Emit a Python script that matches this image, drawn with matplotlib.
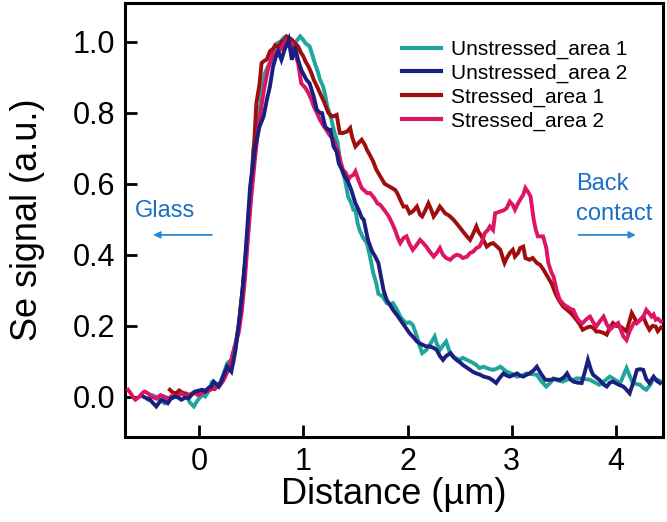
import matplotlib
matplotlib.use("Agg")
import matplotlib.pyplot as plt

plt.rcParams['font.family'] = ['Liberation Sans', 'DejaVu Sans']

# ---------------- data ----------------
u1_x = [-0.49,-0.45,-0.41,-0.37,-0.33,-0.28,-0.23,-0.18,-0.13,-0.09,
        -0.05,-0.01,0.03,0.06,0.09,0.12,0.16,0.20,0.23,0.27,
        0.31,0.35,0.38,0.41,0.44,0.47,0.50,0.52,0.55,0.57,
        0.60,0.63,0.66,0.68,0.72,0.75,0.78,0.81,0.84,0.86,
        0.88,0.90,0.93,0.97,1.00,1.02,1.06,1.09,1.11,1.14,
        1.16,1.19,1.21,1.23,1.25,1.27,1.30,1.33,1.35,1.38,
        1.40,1.43,1.46,1.48,1.50,1.52,1.54,1.57,1.61,1.64,
        1.67,1.70,1.72,1.76,1.80,1.83,1.86,1.90,1.93,1.96,
        1.99,2.02,2.05,2.09,2.12,2.14,2.18,2.22,2.26,2.28,
        2.31,2.34,2.37,2.40,2.44,2.47,2.50,2.53,2.57,2.60,
        2.63,2.66,2.69,2.73,2.76,2.79,2.82,2.86,2.89,2.92,
        2.95,3.00,3.05,3.10,3.14,3.19,3.24,3.28,3.33,3.37,
        3.40,3.45,3.49,3.54,3.59,3.62,3.65,3.70,3.75,3.80,
        3.84,3.89,3.94,3.99,4.04,4.07,4.10,4.13,4.16,4.20,
        4.23,4.26,4.29,4.33,4.36,4.40,4.43]
u1_y = [-0.008,0.005,0.000,-0.010,-0.018,-0.005,0.000,0.008,0.010,-0.015,
        -0.027,-0.008,0.005,0.001,0.015,0.039,0.030,0.039,0.060,0.095,
        0.104,0.150,0.198,0.280,0.370,0.460,0.580,0.696,0.740,0.780,
        0.855,0.910,0.930,0.940,0.970,0.996,1.000,1.010,0.990,0.987,
        0.990,0.996,1.000,1.015,1.005,0.996,0.987,0.960,0.940,0.915,
        0.893,0.874,0.850,0.818,0.800,0.780,0.743,0.715,0.668,0.630,
        0.611,0.564,0.545,0.527,0.527,0.490,0.470,0.450,0.433,0.395,
        0.350,0.320,0.290,0.283,0.264,0.260,0.264,0.245,0.226,0.215,
        0.208,0.210,0.203,0.170,0.140,0.123,0.132,0.150,0.170,0.150,
        0.132,0.145,0.156,0.130,0.113,0.108,0.104,0.110,0.104,0.100,
        0.095,0.090,0.081,0.085,0.081,0.078,0.076,0.080,0.085,0.078,
        0.071,0.065,0.057,0.060,0.066,0.064,0.062,0.045,0.029,0.040,
        0.052,0.045,0.043,0.050,0.048,0.052,0.052,0.050,0.048,0.040,
        0.034,0.045,0.057,0.048,0.039,0.060,0.081,0.060,0.039,0.036,
        0.034,0.025,0.020,0.035,0.052,0.048,0.043]

u2_x = [-0.53,-0.50,-0.47,-0.44,-0.41,-0.38,-0.36,-0.33,-0.30,-0.27,
        -0.23,-0.20,-0.17,-0.13,-0.10,-0.07,-0.04,0.00,0.03,0.06,
        0.09,0.12,0.14,0.17,0.19,0.21,0.23,0.27,0.31,0.33,
        0.35,0.37,0.39,0.42,0.45,0.49,0.52,0.54,0.58,0.62,
        0.65,0.68,0.71,0.74,0.76,0.79,0.82,0.86,0.89,0.92,
        0.95,0.98,1.03,1.06,1.10,1.13,1.16,1.18,1.21,1.24,
        1.26,1.29,1.32,1.34,1.37,1.40,1.43,1.46,1.48,1.50,
        1.53,1.56,1.58,1.60,1.62,1.66,1.69,1.72,1.75,1.77,
        1.80,1.83,1.86,1.90,1.93,1.97,2.02,2.05,2.09,2.12,
        2.15,2.18,2.21,2.25,2.28,2.31,2.34,2.37,2.41,2.44,
        2.47,2.50,2.53,2.57,2.60,2.63,2.66,2.70,2.73,2.76,
        2.79,2.82,2.85,2.88,2.92,2.95,2.98,3.02,3.05,3.08,
        3.11,3.14,3.17,3.21,3.24,3.28,3.32,3.37,3.41,3.46,
        3.50,3.53,3.56,3.59,3.63,3.67,3.70,3.73,3.76,3.78,
        3.81,3.84,3.88,3.91,3.94,3.97,4.02,4.07,4.10,4.13,
        4.17,4.20,4.23,4.26,4.29,4.32,4.36,4.39,4.42]
u2_y = [0.000,-0.004,-0.008,-0.018,-0.027,-0.015,-0.008,-0.012,-0.018,-0.005,
        0.001,-0.002,-0.008,-0.002,-0.004,0.006,0.015,0.018,0.020,0.015,
        0.025,0.030,0.043,0.035,0.029,0.040,0.057,0.085,0.071,0.100,
        0.132,0.180,0.226,0.310,0.420,0.592,0.660,0.705,0.761,0.790,
        0.836,0.874,0.930,0.960,0.973,0.949,0.977,1.006,0.949,0.987,
        0.949,0.921,0.893,0.883,0.846,0.808,0.800,0.799,0.761,0.752,
        0.752,0.705,0.690,0.658,0.640,0.620,0.605,0.583,0.564,0.545,
        0.527,0.505,0.499,0.470,0.442,0.410,0.395,0.377,0.330,0.300,
        0.273,0.260,0.245,0.230,0.217,0.200,0.179,0.170,0.156,0.150,
        0.146,0.142,0.142,0.138,0.132,0.115,0.104,0.115,0.123,0.112,
        0.104,0.098,0.090,0.082,0.076,0.070,0.066,0.062,0.057,0.055,
        0.052,0.046,0.039,0.052,0.066,0.060,0.057,0.062,0.066,0.060,
        0.057,0.062,0.066,0.075,0.085,0.065,0.048,0.048,0.050,0.048,
        0.055,0.066,0.050,0.043,0.040,0.039,0.070,0.104,0.075,0.062,
        0.055,0.048,0.035,0.029,0.040,0.043,0.035,0.029,0.020,0.010,
        0.045,0.076,0.078,0.076,0.050,0.039,0.057,0.045,0.039]

s1_x = [-0.28,-0.25,-0.22,-0.19,-0.16,-0.13,-0.09,-0.05,-0.01,0.03,
        0.07,0.11,0.15,0.19,0.23,0.27,0.31,0.35,0.38,0.41,
        0.44,0.47,0.50,0.53,0.55,0.58,0.60,0.62,0.65,0.68,
        0.71,0.73,0.76,0.79,0.82,0.84,0.87,0.89,0.92,0.95,
        0.98,1.00,1.02,1.05,1.08,1.10,1.13,1.16,1.20,1.24,
        1.27,1.29,1.32,1.35,1.38,1.42,1.45,1.47,1.50,1.53,
        1.56,1.59,1.61,1.64,1.67,1.70,1.74,1.78,1.81,1.84,
        1.88,1.90,1.93,1.96,1.99,2.02,2.05,2.09,2.12,2.14,
        2.17,2.20,2.23,2.25,2.28,2.31,2.34,2.36,2.40,2.44,
        2.48,2.52,2.56,2.60,2.63,2.66,2.68,2.71,2.74,2.76,
        2.79,2.82,2.84,2.87,2.89,2.92,2.93,2.95,2.98,3.01,
        3.03,3.06,3.08,3.11,3.13,3.17,3.20,3.24,3.27,3.30,
        3.34,3.38,3.42,3.45,3.49,3.53,3.57,3.62,3.65,3.68,
        3.72,3.75,3.78,3.81,3.84,3.88,3.91,3.94,3.97,4.00,
        4.04,4.07,4.10,4.13,4.15,4.18,4.20,4.23,4.26,4.29,
        4.32,4.35,4.38,4.40,4.43]
s1_y = [0.020,0.012,0.010,0.018,0.012,0.008,0.006,0.012,0.010,0.015,
        0.020,0.025,0.022,0.035,0.045,0.070,0.100,0.140,0.200,0.280,
        0.370,0.480,0.600,0.720,0.827,0.880,0.940,0.945,0.950,0.973,
        0.980,0.990,0.985,1.000,1.005,1.015,1.010,1.006,0.995,0.987,
        0.968,0.959,0.945,0.930,0.910,0.893,0.875,0.856,0.830,0.800,
        0.790,0.790,0.794,0.743,0.743,0.747,0.757,0.730,0.705,0.715,
        0.724,0.710,0.696,0.680,0.663,0.640,0.620,0.600,0.595,0.590,
        0.583,0.574,0.555,0.536,0.536,0.517,0.522,0.536,0.513,0.508,
        0.525,0.545,0.525,0.508,0.520,0.536,0.525,0.517,0.510,0.499,
        0.485,0.470,0.455,0.442,0.460,0.480,0.465,0.452,0.435,0.423,
        0.430,0.433,0.428,0.420,0.414,0.385,0.377,0.390,0.405,0.414,
        0.395,0.405,0.419,0.423,0.391,0.386,0.391,0.377,0.372,0.360,
        0.340,0.320,0.290,0.273,0.255,0.245,0.235,0.217,0.205,0.189,
        0.195,0.198,0.195,0.184,0.184,0.180,0.175,0.195,0.208,0.200,
        0.198,0.192,0.184,0.215,0.236,0.220,0.208,0.216,0.226,0.205,
        0.189,0.200,0.198,0.185,0.195]

s2_x = [-0.68,-0.66,-0.63,-0.61,-0.57,-0.54,-0.52,-0.48,-0.45,-0.41,
        -0.37,-0.33,-0.29,-0.25,-0.21,-0.17,-0.13,-0.09,-0.05,-0.01,
        0.03,0.07,0.11,0.15,0.19,0.22,0.25,0.28,0.31,0.34,
        0.38,0.41,0.44,0.47,0.50,0.54,0.57,0.60,0.62,0.64,
        0.66,0.69,0.71,0.74,0.78,0.81,0.84,0.87,0.89,0.92,
        0.95,0.98,1.02,1.05,1.08,1.10,1.13,1.16,1.19,1.22,
        1.25,1.29,1.32,1.34,1.36,1.38,1.41,1.43,1.45,1.48,
        1.50,1.53,1.56,1.59,1.61,1.64,1.68,1.71,1.74,1.78,
        1.82,1.85,1.88,1.91,1.93,1.96,1.99,2.02,2.05,2.08,
        2.12,2.15,2.18,2.21,2.25,2.28,2.31,2.34,2.37,2.41,
        2.44,2.47,2.50,2.53,2.57,2.60,2.63,2.66,2.69,2.72,
        2.74,2.77,2.79,2.82,2.84,2.87,2.89,2.92,2.95,2.98,
        3.01,3.03,3.06,3.09,3.11,3.13,3.16,3.18,3.21,3.23,
        3.25,3.28,3.30,3.33,3.35,3.38,3.40,3.43,3.46,3.50,
        3.53,3.56,3.59,3.62,3.65,3.68,3.72,3.75,3.78,3.81,
        3.85,3.88,3.91,3.94,3.98,4.02,4.05,4.07,4.10,4.13,
        4.17,4.20,4.23,4.26,4.29,4.31,4.34,4.36,4.38,4.40,
        4.43]
s2_y = [0.020,0.012,-0.002,-0.008,0.001,0.012,0.015,0.008,0.000,-0.005,
        0.005,0.000,-0.004,0.005,0.000,0.010,0.002,0.005,0.012,0.005,
        0.010,0.015,0.020,0.025,0.030,0.040,0.057,0.080,0.104,0.140,
        0.180,0.240,0.330,0.450,0.560,0.680,0.760,0.820,0.860,0.890,
        0.921,0.950,0.968,0.972,0.977,0.990,1.006,1.000,0.996,0.968,
        0.940,0.883,0.870,0.855,0.835,0.818,0.800,0.780,0.765,0.752,
        0.738,0.724,0.700,0.686,0.660,0.640,0.630,0.611,0.620,0.625,
        0.635,0.610,0.588,0.580,0.574,0.574,0.560,0.545,0.540,0.525,
        0.508,0.490,0.470,0.445,0.433,0.447,0.452,0.430,0.414,0.425,
        0.442,0.433,0.423,0.410,0.395,0.405,0.419,0.400,0.391,0.386,
        0.395,0.400,0.398,0.391,0.395,0.405,0.409,0.419,0.423,0.442,
        0.461,0.470,0.480,0.470,0.517,0.520,0.522,0.525,0.531,0.550,
        0.540,0.527,0.545,0.560,0.569,0.588,0.575,0.564,0.499,0.470,
        0.452,0.452,0.452,0.420,0.377,0.350,0.339,0.300,0.273,0.260,
        0.254,0.248,0.245,0.225,0.212,0.208,0.220,0.226,0.210,0.198,
        0.215,0.226,0.205,0.189,0.200,0.208,0.185,0.170,0.160,0.185,
        0.208,0.208,0.217,0.225,0.245,0.238,0.226,0.232,0.217,0.220,
        0.212]

labels = ["Unstressed_area 1", "Unstressed_area 2", "Stressed_area 1", "Stressed_area 2"]
colors = ["#1FA59C", "#1B1F7E", "#A00D0D", "#DE1464"]
zorders = [2, 5, 3, 4]
xticks = [0, 1, 2, 3, 4]
yticks = [0.0, 0.2, 0.4, 0.6, 0.8, 1.0]

# ---------------- figure ----------------
fig = plt.figure(figsize=(6.67, 5.22), dpi=100)
ax = fig.add_axes([125/667, 1 - 437/522, (663 - 125)/667, (437 - 3)/522])

series = [(u1_x, u1_y), (u2_x, u2_y), (s1_x, s1_y), (s2_x, s2_y)]
for (xs, ys), lab, c, z in zip(series, labels, colors, zorders):
    ax.plot(xs, ys, color=c, lw=2.8, label=lab, zorder=z, solid_joinstyle='miter')

ax.set_xlim(-0.71, 4.45)
ax.set_ylim(-0.113, 1.109)
ax.set_xticks(xticks)
ax.set_xticklabels([str(t) for t in xticks])
ax.set_yticks(yticks)
ax.set_yticklabels([f"{t:.1f}" for t in yticks])
ax.tick_params(direction='in', length=8.5, width=2, labelsize=22, pad=7,
               top=False, right=False)
for sp in ax.spines.values():
    sp.set_linewidth(2.2)

ax.set_xlabel("Distance (µm)", fontsize=26, labelpad=0)
ax.set_ylabel("Se signal (a.u.)", fontsize=26, labelpad=20)

leg = ax.legend(loc='upper left', bbox_to_anchor=(0.515, 0.915), frameon=False,
                fontsize=15, handlelength=1.85, handletextpad=0.5,
                labelspacing=0.22, borderpad=0, borderaxespad=0)
for line in leg.get_lines():
    line.set_linewidth(3)

txt_c = "#1B6FC4"
arr_c = "#2A8AD8"
ax.text(-0.614, 0.507, "Glass", color=txt_c, fontsize=17, ha='left', va='baseline')
ax.text(3.62, 0.583, "Back", color=txt_c, fontsize=17, ha='left', va='baseline')
ax.text(3.62, 0.499, "contact", color=txt_c, fontsize=17, ha='left', va='baseline')
ax.annotate("", xy=(-0.44, 0.456), xytext=(0.125, 0.456),
            arrowprops=dict(arrowstyle='-|>', color=arr_c, lw=1.3,
                            mutation_scale=10, shrinkA=0, shrinkB=0))
ax.annotate("", xy=(4.19, 0.456), xytext=(3.64, 0.456),
            arrowprops=dict(arrowstyle='-|>', color=arr_c, lw=1.3,
                            mutation_scale=10, shrinkA=0, shrinkB=0))

fig.savefig("out.png", dpi=100)
